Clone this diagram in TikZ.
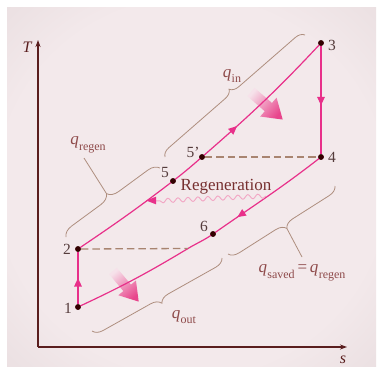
\documentclass[tikz,border=0pt]{standalone}
\usepackage{fontspec}
\setmainfont{Liberation Serif}
\usetikzlibrary{arrows.meta,decorations.pathreplacing,decorations.pathmorphing,decorations.markings,calc}

\definecolor{cyccol}{HTML}{E8308A}
\definecolor{bracecol}{HTML}{AE8E7E}
\definecolor{dashcol}{HTML}{A88470}
\definecolor{axiscol}{HTML}{5A1E1E}
\definecolor{lblcol}{HTML}{553C3C}
\definecolor{qcol}{HTML}{8E4A4A}
\definecolor{wavecol}{HTML}{F2A6C4}
\definecolor{bgin}{HTML}{F3E9EB}
\definecolor{bgmid}{HTML}{E4D8DA}
\definecolor{bgout}{HTML}{C2B9BB}
\definecolor{fatpale}{HTML}{F6E2EA}
\definecolor{fatstrong}{HTML}{E8458C}

\pgfdeclareradialshading{vignette}{\pgfpoint{0bp}{0bp}}{color(0bp)=(bgin); color(26bp)=(bgin); color(44bp)=(bgmid); color(72bp)=(bgout)}

\newcommand{\qlab}[1]{\textit{q}\kern0.3pt\raisebox{-0.32em}{\fontsize{12}{12}\selectfont #1}}

\begin{document}
\begin{tikzpicture}[x=1pt,y=-1pt,
  ptdot/.style={circle, fill=black!80!red, inner sep=0pt, minimum size=5.5pt},
  numlbl/.style={text=lblcol, font=\fontsize{15.5}{15.5}\selectfont, inner sep=0pt},
  qlbl/.style={text=qcol, font=\fontsize{17}{17}\selectfont, inner sep=0pt},
  cyc/.style={draw=cyccol, line width=1.2pt},
  midarrow/.style={postaction={decorate, decoration={markings, mark=at position #1 with {\arrow[cyccol]{Triangle[length=8.5pt,width=7.5pt]}}}}},
  qbrace/.style={draw=bracecol, line width=0.8pt, decorate, decoration={brace, amplitude=#1}},
  leader/.style={draw=bracecol, line width=0.8pt},
  dashln/.style={draw=dashcol, line width=1.3pt, dash pattern=on 7.5pt off 4pt},
  axisln/.style={draw=axiscol, line width=1.1pt, -{Stealth[length=7pt,width=5pt]}},
  fatarrow/.style={top color=fatpale, bottom color=fatstrong, draw=none}
]
\useasboundingbox (0,0) rectangle (378,367);
\fill[white] (0,0) rectangle (378,367);
\shade[shading=vignette] (7,7) rectangle (376,367);

% axes
\coordinate (origin) at (38,347);
\coordinate (ytip) at (38,40);
\coordinate (xtip) at (347,347);
\draw[axisln] (origin) -- (ytip);
\draw[axisln] (origin) -- (xtip);
\node[text=axiscol, font=\fontsize{16}{16}\selectfont\itshape] (Tlab) at (27,47) {T};
\node[text=axiscol, font=\fontsize{16}{16}\selectfont\itshape] (slab) at (343,360) {s};

% state points
\node[ptdot] (p1) at (78,307) {};
\node[ptdot] (p2) at (78,249) {};
\node[ptdot] (p3) at (321,43) {};
\node[ptdot] (p4) at (321,157) {};
\node[ptdot] (p5p) at (202,157) {};
\node[ptdot] (p5) at (173,181) {};
\node[ptdot] (p6) at (213,234) {};
\coordinate (q2) at (188,248.5);

% big shaded arrows
\begin{scope}[shift={(251,92)}, rotate=-41]
\shade[fatarrow, shading angle=49]
  (0,-5.5) -- (23,-5.5) -- (23,-12.5) -- (42,0) -- (23,12.5) -- (23,5.5) -- (0,5.5) -- cycle;
\end{scope}
\begin{scope}[shift={(113,271)}, rotate=-50]
\shade[fatarrow, shading angle=40]
  (0,-5) -- (22,-5) -- (22,-11.5) -- (40,0) -- (22,11.5) -- (22,5) -- (0,5) -- cycle;
\end{scope}

% cycle
\draw[cyc, midarrow=0.5] (p1) -- (p2);
\draw[cyc, midarrow=0.63] (p2.center) to[out=34, in=217.5] (p5.center) to[out=37.5, in=221] (p5p.center) to[out=41, in=227] (p3.center);
\draw[cyc, midarrow=0.55] (p3) -- (p4);
\draw[cyc, midarrow=0.36] (p4.center) to[out=218, in=35] (p6.center) to[out=215, in=31] (q2) to[out=211, in=25] (p1.center);

% dashed lines
\draw[dashln] (p2) -- (q2);
\draw[dashln] (p5p) -- (p4);

% redraw dots on top
\foreach \n in {p1,p2,p3,p4,p5p,p5,p6} \fill[black!80!red] (\n) circle (2.8pt);

% regeneration
\coordinate (rg1) at (266,196);
\coordinate (rg2) at (155,201);
\coordinate (rgtip) at (146,200.5);
\draw[wavecol, line width=0.9pt, decorate, decoration={snake, amplitude=2.2pt, segment length=10pt}] (rg1) -- (rg2);
\fill[cyccol] (rgtip) -- ++(10,-3.8) -- ++(0,7.6) -- cycle;
\node[text=lblcol!80!red, font=\fontsize{17}{17}\selectfont, inner sep=0pt] (regen) at (226,187) {Regeneration};

% number labels
\node[numlbl] (l1) at (68,308) {1};
\node[numlbl] (l2) at (67,249) {2};
\node[numlbl] (l3) at (332,45) {3};
\node[numlbl] (l4) at (332,157) {4};
\node[numlbl] (l5p) at (193,152) {5'};
\node[numlbl] (l5) at (165,172) {5};
\node[numlbl] (l6) at (204,226) {6};

% braces
\coordinate (bin1) at (165,157);
\coordinate (bin2) at (305,35);
\draw[qbrace=9pt] (bin1) -- (bin2);
\node[qlbl] (lin) at (232,76) {\qlab{in}};

\coordinate (brg1) at (66,237);
\coordinate (brg2) at (160,168);
\draw[qbrace=11pt] (brg1) -- (brg2);
\coordinate (brgm) at ($(brg1)!0.5!(brg2)$);
\coordinate (brgtip) at ($(brgm)!11pt!90:(brg2)$);
\coordinate (brgend) at (84,158);
\draw[leader] (brgtip) -- (brgend);
\node[qlbl] (lregen) at (88,145) {\qlab{regen}};

\coordinate (bout1) at (222,258);
\coordinate (bout2) at (92,331);
\draw[qbrace=10pt] (bout1) -- (bout2);
\node[qlbl] (lout) at (184,317) {\qlab{out}};

\coordinate (bsv1) at (335,186);
\coordinate (bsv2) at (228,254);
\draw[qbrace=10pt] (bsv1) -- (bsv2);
\coordinate (bsvm) at ($(bsv1)!0.5!(bsv2)$);
\coordinate (bsvtip) at ($(bsvm)!10pt!90:(bsv2)$);
\coordinate (bsvend) at (302,257);
\draw[leader] (bsvtip) -- (bsvend);
\node[qlbl] (lsaved) at (302,273) {\qlab{saved}\,=\,\qlab{regen}};
\end{tikzpicture}
\end{document}
